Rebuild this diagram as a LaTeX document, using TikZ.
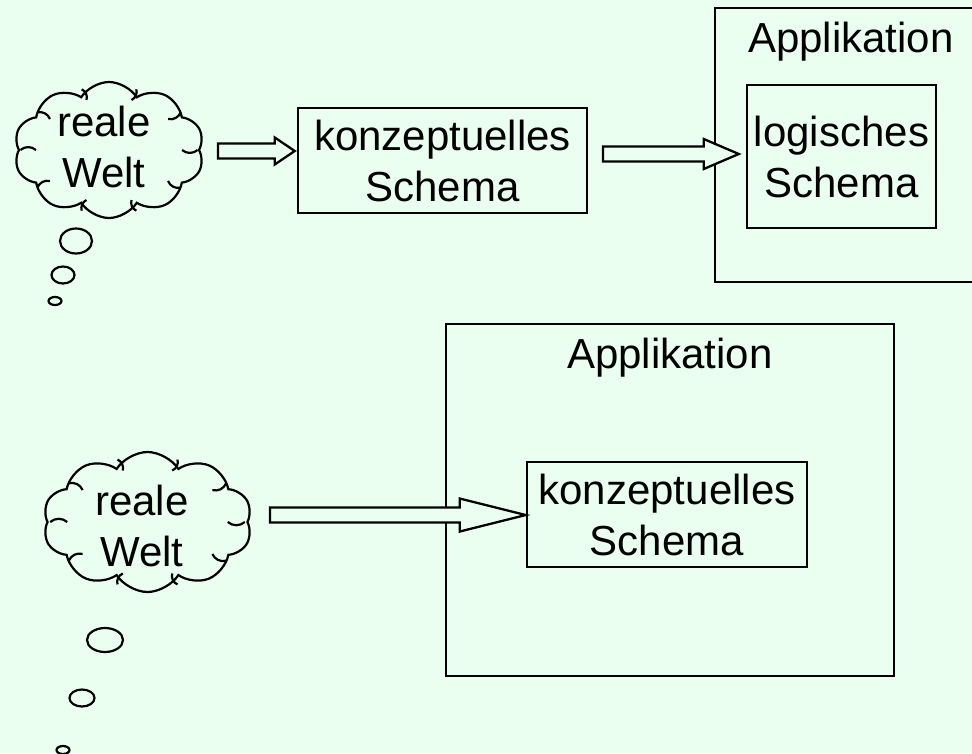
\documentclass[tikz,border=0pt]{standalone}
\usepackage{fontspec}
\setmainfont{Liberation Sans}
\usetikzlibrary{shapes.symbols,shapes.geometric,calc}
\definecolor{bg}{RGB}{234,255,240}
\newcommand\blockarr[5]{%
  \draw[blk] let \p1=(#1), \p2=(#2) in
    (\x1,\y1+#3) -- (\x2-#5,\y1+#3) -- (\x2-#5,\y1+#4) -- (\x2,\y1)
    -- (\x2-#5,\y1-#4) -- (\x2-#5,\y1-#3) -- (\x1,\y1-#3) -- cycle;}
\newcommand\cloudcurls[1]{%
  \foreach \i/\j in {1/2,2/3,3/4,4/5,5/6,6/7,7/8,8/9,9/10,10/1} {
    \coordinate (m) at ($(#1.puff \i)!0.5!(#1.puff \j)$);
    \draw[curl] ($(#1.center)!0.97!(m)$) to[bend left=40] ($(#1.center)!0.80!(m)$);
  }}
\tikzset{
  txt/.style={font=\fontsize{42}{51}\selectfont, align=center, inner sep=0pt},
  box/.style={draw, line width=2.5pt, inner sep=0pt, font=\fontsize{42}{51}\selectfont, align=center},
  blk/.style={draw, line width=2.3pt, fill=bg, line join=miter},
  cloudy/.style={draw, cloud, cloud puffs=10, cloud puff arc=115, line width=2.2pt, inner sep=0pt},
  curl/.style={line width=2.2pt},
  bubble/.style={draw, ellipse, line width=2.2pt, inner sep=0pt},
}
\begin{document}
\begin{tikzpicture}[x=1pt,y=-1pt]
\fill[bg] (0,0) rectangle (972,753);
\useasboundingbox (0,0) rectangle (972,753);
% ---------- top row ----------
\node[cloudy, minimum width=190pt, minimum height=136pt] (cl1) at (109,150) {};
\cloudcurls{cl1}
\node[txt] (cl1t) at (104,147) {reale\\Welt};
\node[bubble, minimum width=32pt, minimum height=25pt] (b11) at (76,241) {};
\node[bubble, minimum width=23pt, minimum height=17pt] (b12) at (63,275) {};
\node[bubble, minimum width=13pt, minimum height=8pt] (b13) at (55,301) {};
\node[box, minimum width=289pt, minimum height=105pt] (k1) at (442.5,160.5) {konzeptuelles\\Schema};
\node[draw, line width=2.5pt, minimum width=275pt, minimum height=274pt, inner sep=0pt] (app1) at (852.5,145) {};
\node[txt, anchor=base] (app1t) at (851,52) {Applikation};
\node[box, minimum width=189pt, minimum height=143pt] (log1) at (841.5,156.5) {logisches\\Schema};
\coordinate (a1s) at (218,151);
\coordinate (a1e) at ($(k1.west|-a1s)+(-2,0)$);
\blockarr{a1s}{a1e}{7.5}{13.5}{20}
\coordinate (a2s) at (603,154);
\coordinate (a2e) at ($(log1.west|-a2s)+(-7,0)$);
\blockarr{a2s}{a2e}{7.5}{15}{35}
% ---------- bottom row ----------
\node[cloudy, minimum width=209pt, minimum height=140pt] (cl2) at (147.5,522) {};
\cloudcurls{cl2}
\node[txt] (cl2t) at (142,526) {reale\\Welt};
\node[bubble, minimum width=36pt, minimum height=24pt] (b21) at (105,640) {};
\node[bubble, minimum width=25pt, minimum height=17pt] (b22) at (82,698) {};
\node[bubble, minimum width=13pt, minimum height=8pt] (b23) at (63,750) {};
\node[draw, line width=2.5pt, minimum width=448pt, minimum height=352pt, inner sep=0pt] (app2) at (670,500) {};
\node[txt, anchor=base] (app2t) at (670,368) {Applikation};
\node[box, minimum width=280pt, minimum height=105pt] (k2) at (667,514.5) {konzeptuelles\\Schema};
\coordinate (a3s) at (270,515);
\coordinate (a3e) at (k2.west|-a3s);
\blockarr{a3s}{a3e}{7.5}{16.5}{66}
\end{tikzpicture}
\end{document}
